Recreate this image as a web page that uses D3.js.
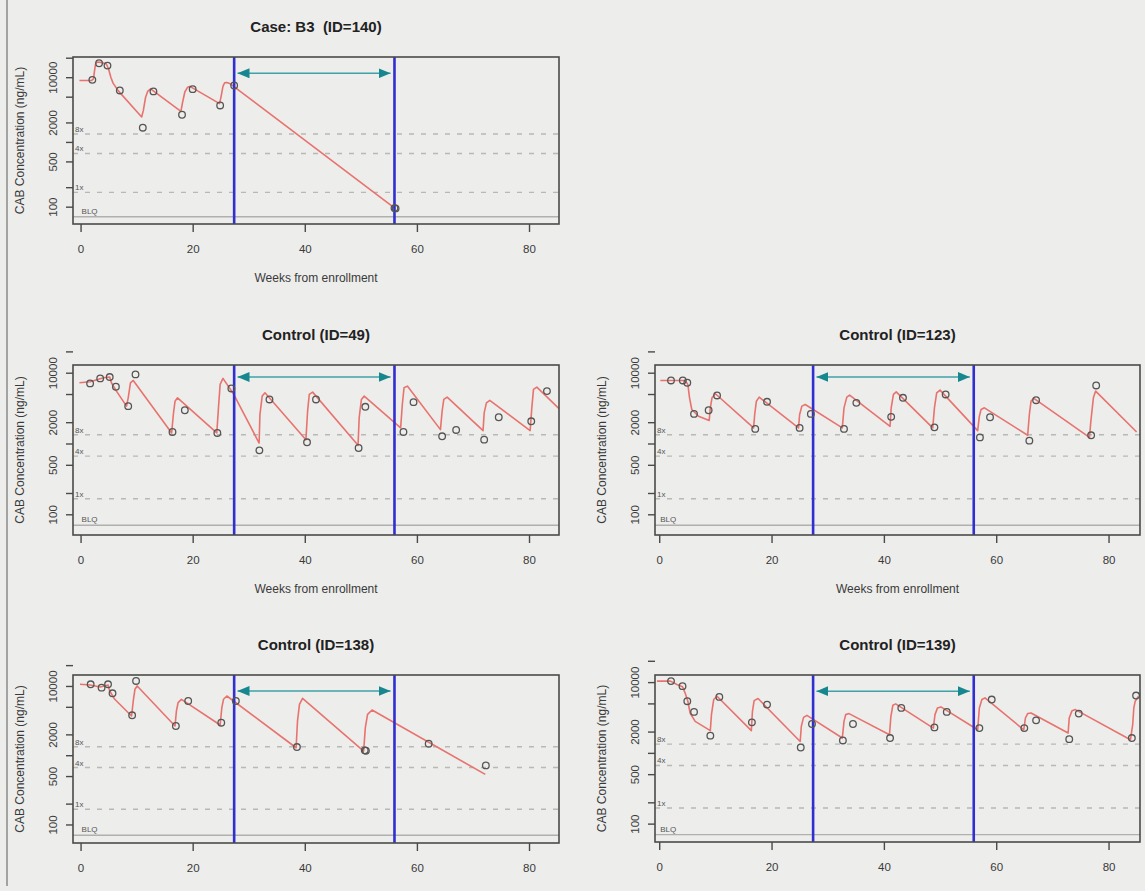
<!DOCTYPE html>
<html>
<head>
<meta charset="utf-8">
<script src="https://cdn.jsdelivr.net/npm/d3@7"></script>
<style>
body{margin:0;background:#ededeb;}
svg{display:block;font-family:"Liberation Sans",Arial,sans-serif;}
</style>
</head>
<body>
<div id="chart"></div>
<script>
// axis ticks and reference levels
var xTicks = [0, 20, 40, 60, 80];
var yTicks = [100, 200, 500, 1000, 2000, 5000, 10000, 20000];
var yTickLabels = [100, 500, 2000, 10000];
var refLevels = [1328, 664, 166];
var refLabels = ["8x", "4x", "1x"];
var blqLevel = 70;
var windowStart = 27.4, windowEnd = 56;
var arrowStart = 28.0, arrowEnd = 55.3;

// Case B3 (ID=140)
var p140CurveWk   = [-0.2, 2.0, 2.3, 2.5, 2.7, 3.1, 3.8, 4.6, 5.0, 5.4, 5.8, 6.7, 10.9, 11.2, 11.6, 12.0, 12.5, 17.9, 18.2, 18.6, 19.1, 19.5, 24.8, 25.1, 25.4, 25.7, 26.1, 26.7, 56.1];
var p140CurveConc = [8900, 8900, 9400, 12700, 16400, 17200, 16800, 16000, 13400, 10000, 8100, 6200, 2430, 3070, 4900, 6100, 6600, 2970, 4100, 5900, 7000, 7200, 3900, 5200, 7200, 8200, 8300, 7900, 94];
var p140ObsWk   = [2.1, 3.3, 4.8, 7.0, 11.1, 13.0, 18.1, 20.0, 24.9, 27.4, 56.0, 56.2];
var p140ObsConc = [9100, 16400, 15100, 6240, 1660, 6030, 2630, 6530, 3660, 7450, 95, 94];

// Control (ID=49)
var p49CurveWk   = [-0.2, 1.7, 4.1, 5.2, 5.5, 6.4, 8.2, 8.5, 8.9, 9.4, 16.25, 16.55, 16.85, 17.3, 24.3, 24.6, 24.9, 25.4, 27.3, 31.85, 32.0, 32.4, 32.9, 40.2, 40.5, 40.8, 41.4, 49.5, 49.7, 50.1, 50.6, 57.1, 57.4, 57.7, 58.3, 64.2, 64.5, 64.8, 65.4, 71.8, 72.0, 72.4, 73.0, 80.2, 80.5, 80.8, 81.4, 85.4];
var p49CurveConc = [7210, 7450, 8500, 8690, 7210, 5500, 3370, 4420, 7210, 7780, 1410, 2570, 3960, 4420, 1410, 3190, 6840, 8310, 5000, 1016, 2570, 4670, 5200, 1133, 2860, 4930, 5320, 942, 2300, 4190, 4670, 1660, 3560, 6120, 6470, 1570, 2860, 4190, 4520, 1520, 2710, 3750, 4060, 1520, 3190, 5810, 6270, 3080];
var p49ObsWk   = [1.7, 3.5, 5.2, 6.3, 8.5, 9.8, 16.4, 18.6, 24.4, 26.9, 31.9, 33.7, 40.4, 42.0, 49.6, 50.8, 57.6, 59.4, 64.5, 67.0, 72.0, 74.6, 80.4, 83.2];
var p49ObsConc = [7060, 8310, 8680, 6330, 3370, 9470, 1455, 2950, 1410, 5990, 800, 4190, 1040, 4190, 864, 3300, 1455, 3840, 1264, 1553, 1133, 2350, 2060, 5500];

// Control (ID=123)
var p123CurveWk   = [0.2, 4.6, 5.1, 5.4, 5.8, 7.0, 8.9, 9.1, 9.4, 10.0, 16.8, 17.0, 17.3, 17.8, 24.8, 25.0, 25.4, 26.0, 32.6, 32.9, 33.4, 33.9, 41.1, 41.3, 41.7, 42.2, 48.7, 49.0, 49.4, 50.0, 56.7, 57.0, 57.3, 57.9, 65.6, 65.9, 66.2, 66.7, 76.6, 76.85, 77.3, 77.7, 85.0];
var p123CurveConc = [7780, 7780, 6840, 4420, 3020, 2430, 2110, 3190, 4420, 5040, 1660, 2570, 3960, 4520, 1660, 2570, 3370, 3560, 1660, 3190, 4520, 4820, 1750, 3190, 4930, 5370, 1660, 3190, 5200, 5680, 1520, 2430, 3020, 3190, 1306, 2570, 3960, 4330, 1220, 2060, 4420, 5500, 1455];
var p123ObsWk   = [2.1, 4.2, 5.0, 6.2, 8.8, 10.3, 17.1, 19.2, 25.0, 27.0, 32.9, 35.1, 41.3, 43.4, 49.0, 51.0, 57.1, 58.9, 65.9, 67.1, 76.9, 77.8];
var p123ObsConc = [7780, 7780, 7210, 2620, 2950, 4770, 1607, 3880, 1660, 2620, 1607, 3750, 2380, 4420, 1690, 4930, 1220, 2350, 1097, 4090, 1306, 6610];

// Control (ID=138)
var p138CurveWk   = [-0.1, 1.7, 3.5, 4.9, 5.2, 6.1, 9.1, 9.4, 9.7, 10.1, 16.85, 17.1, 17.4, 18.0, 24.9, 25.2, 25.5, 26.1, 38.45, 38.7, 39.05, 39.6, 50.5, 50.8, 51.2, 52.0, 72.2];
var p138CurveConc = [10570, 10340, 9680, 10340, 8470, 6420, 3680, 6070, 8950, 10000, 2640, 4360, 5740, 6420, 2730, 4860, 6420, 7160, 1282, 3120, 5430, 6640, 1149, 2500, 3890, 4500, 528];
var p138ObsWk   = [1.8, 3.75, 4.9, 5.7, 9.2, 9.9, 17.0, 19.2, 25.1, 27.7, 38.6, 50.7, 50.9, 62.1, 72.3];
var p138ObsConc = [10570, 9460, 10570, 7830, 3770, 11810, 2640, 6070, 2950, 6070, 1313, 1175, 1160, 1466, 713];

// Control (ID=139)
var p139CurveWk   = [-0.4, 2.0, 3.15, 4.15, 4.6, 5.1, 5.5, 6.4, 9.1, 9.3, 9.7, 10.3, 16.4, 16.6, 16.9, 17.6, 25.1, 25.3, 25.7, 26.3, 32.6, 32.9, 33.2, 33.8, 41.0, 41.25, 41.6, 42.1, 48.8, 49.1, 49.55, 50.15, 56.7, 57.0, 57.45, 58.0, 64.9, 65.2, 65.6, 66.2, 72.8, 73.0, 73.5, 74.1, 83.9, 84.3, 84.5, 84.75, 85.3];
var p139CurveConc = [10330, 10330, 9270, 8580, 7050, 5370, 3660, 2790, 2060, 3470, 5670, 6320, 2060, 3870, 5480, 5860, 1450, 2370, 3170, 3390, 1620, 2790, 3470, 3590, 1800, 3290, 4710, 4920, 2240, 3470, 4320, 4460, 2120, 4320, 5670, 5980, 2120, 3110, 3590, 3660, 1905, 3110, 3950, 4090, 1530, 2500, 4320, 5370, 6300];
var p139ObsWk   = [2.1, 4.15, 5.0, 6.2, 9.1, 10.7, 16.5, 19.2, 25.2, 27.2, 32.7, 34.5, 41.1, 43.1, 49.0, 51.2, 57.0, 59.2, 65.0, 67.1, 73.0, 74.7, 84.15, 84.9];
var p139ObsConc = [10330, 8770, 5370, 3790, 1750, 6180, 2700, 4810, 1190, 2560, 1497, 2560, 1620, 4320, 2290, 3790, 2240, 5670, 2240, 2880, 1563, 3590, 1620, 6460];

var titles = ["Case: B3  (ID=140)", "Control (ID=49)", "Control (ID=123)", "Control (ID=138)", "Control (ID=139)"];
var yDomains = [[54, 20500], [51, 12850], [51, 12850], [54, 14400], [55, 12600]];
var arrowConc = [11500, 8690, 8690, 8470, 7450];

var panels = [
  {curveWk: p140CurveWk, curveConc: p140CurveConc, obsWk: p140ObsWk, obsConc: p140ObsConc},
  {curveWk: p49CurveWk,  curveConc: p49CurveConc,  obsWk: p49ObsWk,  obsConc: p49ObsConc},
  {curveWk: p123CurveWk, curveConc: p123CurveConc, obsWk: p123ObsWk, obsConc: p123ObsConc},
  {curveWk: p138CurveWk, curveConc: p138CurveConc, obsWk: p138ObsWk, obsConc: p138ObsConc},
  {curveWk: p139CurveWk, curveConc: p139CurveConc, obsWk: p139ObsWk, obsConc: p139ObsConc}
];

// plot boxes (left column / right column)
var boxes = [
  {x: 73,  y: 57,  w: 486, h: 167, xdom: [-1.35, 85.35], xlab: true},
  {x: 73,  y: 365, w: 486, h: 170, xdom: [-1.35, 85.35], xlab: true},
  {x: 655, y: 365, w: 485, h: 170, xdom: [-0.75, 85.6],  xlab: true},
  {x: 73,  y: 675, w: 486, h: 168, xdom: [-1.35, 85.35], xlab: false},
  {x: 655, y: 675, w: 485, h: 167, xdom: [-0.75, 85.6],  xlab: false}
];

var svg = d3.select("#chart").append("svg")
  .attr("width", 1145)
  .attr("height", 891);

svg.append("rect").attr("width", 1145).attr("height", 891).attr("fill", "#ededeb");

// slide border on the left
svg.append("line")
  .attr("x1", 7).attr("x2", 7).attr("y1", 0).attr("y2", 886)
  .attr("stroke", "#8a8a8a").attr("stroke-width", 1.5);

var defs = svg.append("defs");
defs.append("marker")
  .attr("id", "head")
  .attr("viewBox", "0 0 12 10")
  .attr("markerUnits", "userSpaceOnUse")
  .attr("markerWidth", 12).attr("markerHeight", 10)
  .attr("refX", 12).attr("refY", 5)
  .attr("orient", "auto-start-reverse")
  .append("path").attr("d", "M0,0L12,5L0,10Z").attr("fill", "#17878f");

panels.forEach(function(p, i) {
  var b = boxes[i];
  var x = d3.scaleLinear().domain(b.xdom).range([0, b.w]);
  var y = d3.scaleLog().domain(yDomains[i]).range([b.h, 0]);

  var g = svg.append("g").attr("transform", "translate(" + b.x + "," + b.y + ")");

  defs.append("clipPath").attr("id", "clip" + i)
    .append("rect").attr("width", b.w).attr("height", b.h);

  var inner = g.append("g").attr("clip-path", "url(#clip" + i + ")");

  // reference levels (dashed) and BLQ line
  inner.selectAll(".ref")
    .data(refLevels)
    .enter().append("line")
      .attr("x1", 0).attr("x2", b.w)
      .attr("y1", function(d) { return y(d); })
      .attr("y2", function(d) { return y(d); })
      .attr("stroke", "#b8b8b6")
      .attr("stroke-width", 1.4)
      .attr("stroke-dasharray", "5,7");

  inner.append("line")
    .attr("x1", 0).attr("x2", b.w)
    .attr("y1", y(blqLevel)).attr("y2", y(blqLevel))
    .attr("stroke", "#b0b0ae").attr("stroke-width", 1.4);

  g.selectAll(".reflab")
    .data(refLevels)
    .enter().append("text")
      .attr("x", 2)
      .attr("y", function(d) { return y(d) - 2; })
      .attr("font-size", 8)
      .attr("fill", "#555")
      .text(function(d, k) { return refLabels[k]; });

  g.append("text")
    .attr("x", x(0) + 1)
    .attr("y", y(blqLevel) - 3)
    .attr("font-size", 8)
    .attr("fill", "#555")
    .text("BLQ");

  // model curve (log-linear between read points)
  var pts = p.curveWk.map(function(w, k) { return [w, p.curveConc[k]]; });
  var line = d3.line()
    .x(function(d) { return x(d[0]); })
    .y(function(d) { return y(d[1]); })
    .curve(d3.curveLinear);

  inner.append("path")
    .datum(pts)
    .attr("d", line)
    .attr("fill", "none")
    .attr("stroke", "#e8736e")
    .attr("stroke-width", 1.6)
    .attr("stroke-linejoin", "round");

  // window lines
  inner.selectAll(".win")
    .data([windowStart, windowEnd])
    .enter().append("line")
      .attr("x1", function(d) { return x(d); })
      .attr("x2", function(d) { return x(d); })
      .attr("y1", 0).attr("y2", b.h)
      .attr("stroke", "#2f2fd2")
      .attr("stroke-width", 2.6);

  // double arrow
  inner.append("line")
    .attr("x1", x(arrowStart)).attr("x2", x(arrowEnd))
    .attr("y1", y(arrowConc[i])).attr("y2", y(arrowConc[i]))
    .attr("stroke", "#3ea2aa")
    .attr("stroke-width", 1.5)
    .attr("marker-start", "url(#head)")
    .attr("marker-end", "url(#head)");

  // observed values
  var obs = p.obsWk.map(function(w, k) { return [w, p.obsConc[k]]; });
  inner.selectAll(".obs")
    .data(obs)
    .enter().append("circle")
      .attr("cx", function(d) { return x(d[0]); })
      .attr("cy", function(d) { return y(d[1]); })
      .attr("r", 3.3)
      .attr("fill", "none")
      .attr("stroke", "#555")
      .attr("stroke-width", 1.3);

  // box
  g.append("rect")
    .attr("width", b.w).attr("height", b.h)
    .attr("fill", "none")
    .attr("stroke", "#4a4a4a")
    .attr("stroke-width", 1.6);

  // x axis
  var xa = g.append("g")
    .attr("transform", "translate(0," + b.h + ")")
    .call(d3.axisBottom(x).tickValues(xTicks).tickSize(8).tickFormat(d3.format("d")));
  xa.select(".domain").remove();
  xa.selectAll("line").attr("stroke", "#4a4a4a").attr("stroke-width", 1.4);
  xa.selectAll("text")
    .attr("y", 29).attr("dy", null)
    .attr("font-size", 11.5)
    .attr("font-family", "Liberation Sans, Arial, sans-serif")
    .attr("fill", "#3a3a3a");

  // y axis
  var ya = g.append("g")
    .call(d3.axisLeft(y).tickValues(yTicks).tickSize(7)
      .tickFormat(function(d) { return yTickLabels.indexOf(d) >= 0 ? d : ""; }));
  ya.select(".domain").remove();
  ya.selectAll("line").attr("stroke", "#4a4a4a").attr("stroke-width", 1.4);
  ya.selectAll("text")
    .attr("transform", "rotate(-90)")
    .attr("x", 0).attr("y", -16).attr("dy", null)
    .attr("text-anchor", "middle")
    .attr("font-size", 11.5)
    .attr("font-family", "Liberation Sans, Arial, sans-serif")
    .attr("fill", "#3a3a3a");

  // titles and axis labels
  g.append("text")
    .attr("x", b.w / 2).attr("y", -25)
    .attr("text-anchor", "middle")
    .attr("font-size", 15)
    .attr("font-weight", "bold")
    .attr("fill", "#222")
    .style("white-space", "pre")
    .text(titles[i]);

  g.append("text")
    .attr("transform", "translate(-49," + (b.h / 2) + ") rotate(-90)")
    .attr("text-anchor", "middle")
    .attr("font-size", 12)
    .attr("fill", "#3a3a3a")
    .text("CAB Concentration (ng/mL)");

  if (b.xlab) {
    g.append("text")
      .attr("x", b.w / 2).attr("y", b.h + 58)
      .attr("text-anchor", "middle")
      .attr("font-size", 12)
      .attr("fill", "#3a3a3a")
      .text("Weeks from enrollment");
  }
});
</script>
</body>
</html>
